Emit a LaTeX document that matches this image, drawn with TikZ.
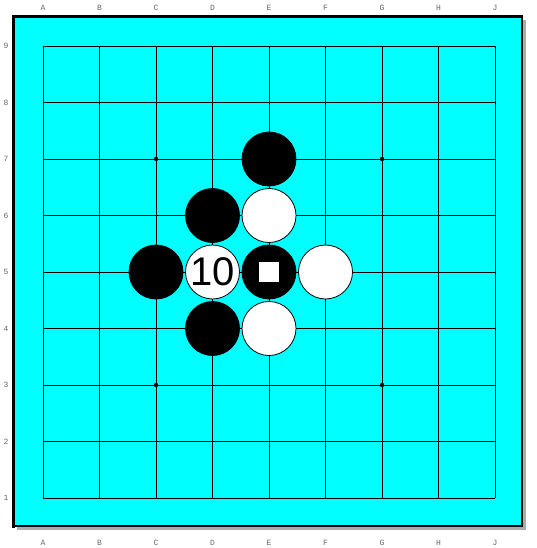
\documentclass[tikz,border=0pt]{standalone}
\usepackage{fontspec}
\newfontfamily\coordfont{Liberation Mono}
\newfontfamily\numfont{Liberation Sans}
\definecolor{boardcyan}{RGB}{0,255,255}
\begin{document}
\begin{tikzpicture}[x=1pt, y=-1pt,
	stone/.style={circle, draw=black, line width=0.8pt, minimum size=54pt, inner sep=0pt},
	bstone/.style={stone, fill=black},
	wstone/.style={stone, fill=white},
	coord/.style={font=\coordfont\fontsize{8}{8}\selectfont, text=gray!80!black, inner sep=0pt}]
	\useasboundingbox (0,0) rectangle (537,548);
	% board and its shadow
	\fill[gray!65] (17,20) rectangle (525.5,529.5);
	\fill[boardcyan] (13.5,16.5) rectangle (522,526);
	\draw[line width=1.2pt] (13.5,526) -- (522,526) -- (522,16.5);
	\draw[line width=3pt] (13.5,527.5) -- (13.5,16.5) -- (522.6,16.5);
	% grid
	\foreach \i in {0,...,8} {
		\draw[line width=0.8pt] ({43+56.5*\i},46) -- ({43+56.5*\i},498);
		\draw[line width=0.8pt] (43,{46+56.5*\i}) -- (495,{46+56.5*\i});
	}
	\foreach \l [count=\i from 0] in {A,B,C,D,E,F,G,H,J} {
		\node[coord] (top\l) at ({43+56.5*\i},8) {\l};
		\node[coord] (bot\l) at ({43+56.5*\i},543) {\l};
	}
	\foreach \r in {1,...,9} {\node[coord] (row\r) at (6,{46+56.5*(9-\r)}) {\r};}
	% hoshi
	\foreach \p in {(156,159),(382,159),(156,385),(382,385)} {\fill \p circle (2.2pt);}
	% stones
	\node[bstone] (E7) at (269,159) {};
	\node[bstone] (D6) at (212.5,215.5) {};
	\node[wstone] (E6) at (269,215.5) {};
	\node[bstone] (C5) at (156,272) {};
	\node[wstone, font=\numfont\fontsize{40}{40}\selectfont] (D5) at (212.5,272) {10};
	\node[bstone] (E5) at (269,272) {};
	\node[wstone] (F5) at (325.5,272) {};
	\node[bstone] (D4) at (212.5,328.5) {};
	\node[wstone] (E4) at (269,328.5) {};
	\node[fill=white, minimum size=20pt, inner sep=0pt] (mark) at (E5) {};
\end{tikzpicture}
\end{document}
